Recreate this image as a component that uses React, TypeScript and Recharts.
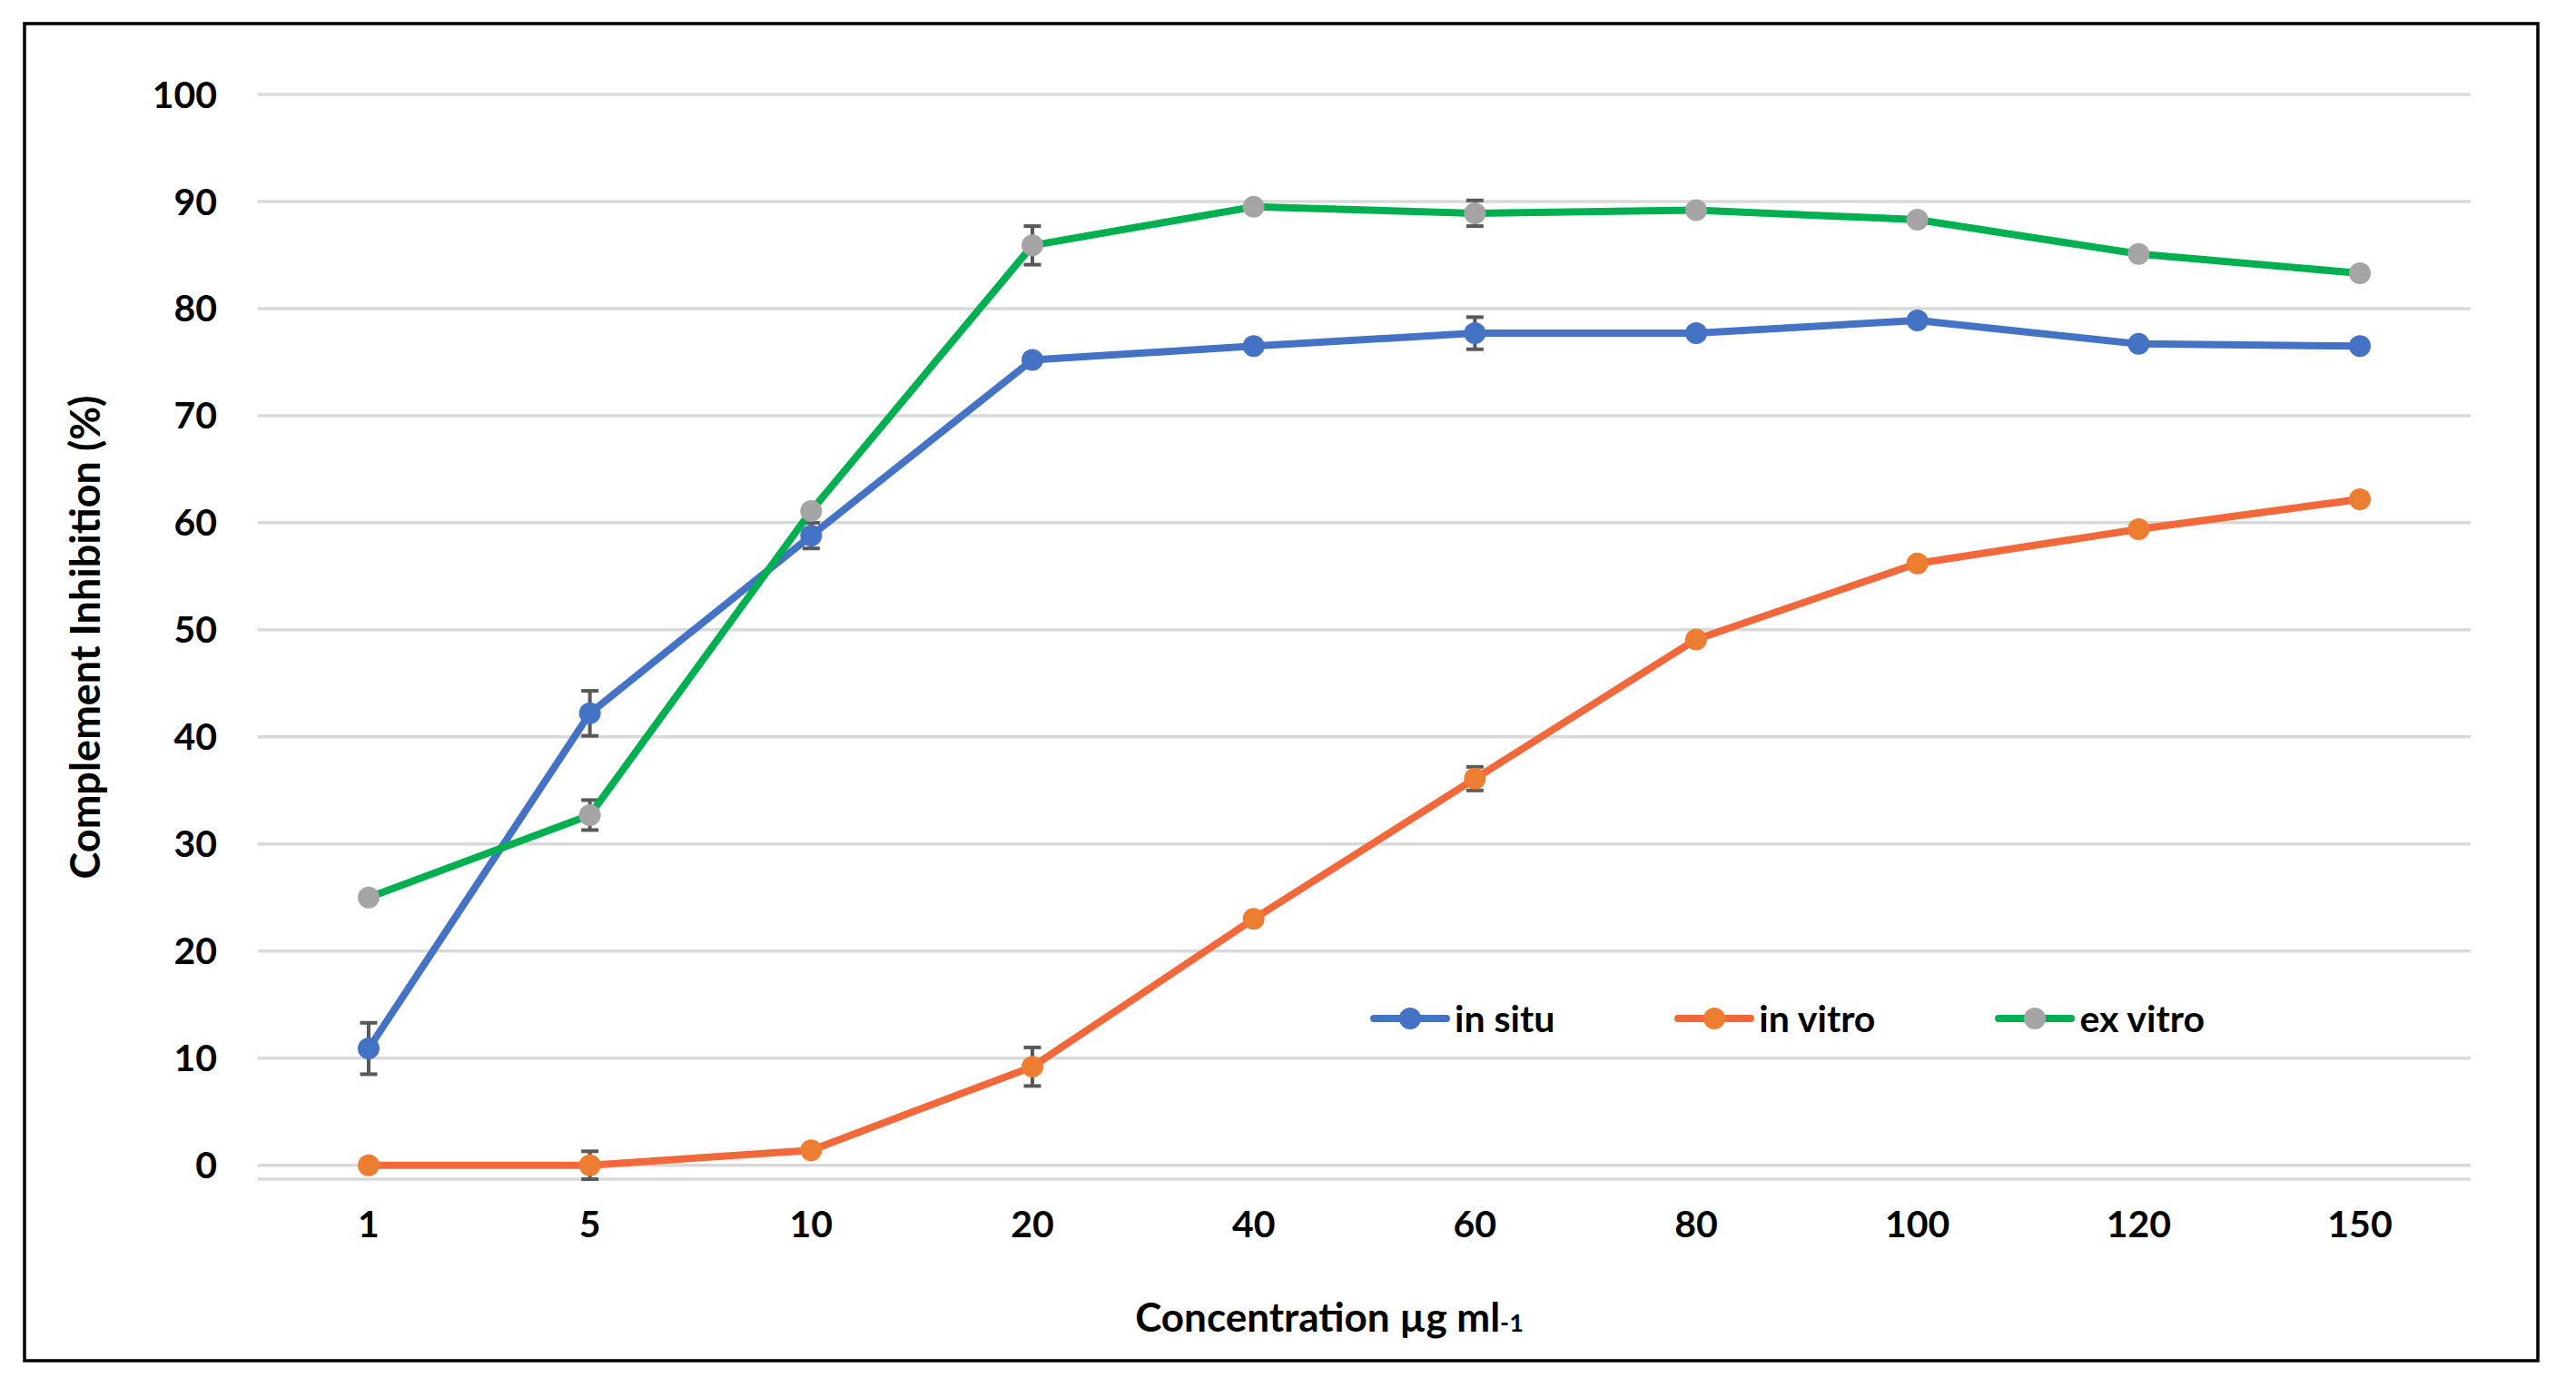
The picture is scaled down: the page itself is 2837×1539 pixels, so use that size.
import React from "react";
import { CartesianGrid, ErrorBar, Legend, Line, LineChart, XAxis, YAxis } from "recharts";

const concentrations = ["1", "5", "10", "20", "40", "60", "80", "100", "120", "150"];
const inSitu = [10.9, 42.2, 58.8, 75.2, 76.5, 77.7, 77.7, 78.9, 76.7, 76.5];
const inSituErr = [2.4, 2.1, 1.2, 0, 0, 1.5, 0, 0, 0, 0];
const inVitro = [0, 0, 1.4, 9.2, 23.0, 36.1, 49.1, 56.2, 59.4, 62.2];
const inVitroErr = [0, 1.3, 0, 1.8, 0, 1.1, 0, 0, 0, 0];
const exVitro = [25.0, 32.7, 61.1, 85.9, 89.5, 88.9, 89.2, 88.3, 85.1, 83.3];
const exVitroErr = [0, 1.4, 0, 1.8, 0, 1.2, 0, 0, 0, 0];
const yTicks = [0, 10, 20, 30, 40, 50, 60, 70, 80, 90, 100];

const series = [
  { key: "inSitu", name: "in situ", line: "#4472c4", dot: "#4472c4" },
  { key: "inVitro", name: "in vitro", line: "#f2683a", dot: "#ed7d31" },
  { key: "exVitro", name: "ex vitro", line: "#00b050", dot: "#a5a5a5" },
];

const data = concentrations.map((c, i) => ({
  conc: c,
  inSitu: inSitu[i],
  inSituErr: inSituErr[i],
  inVitro: inVitro[i],
  inVitroErr: inVitroErr[i],
  exVitro: exVitro[i],
  exVitroErr: exVitroErr[i],
}));

const FONT = "Lato, 'Open Sans', sans-serif";
const W = 2837;
const H = 1539;

function LegendContent() {
  return (
    <div style={{ display: "flex", alignItems: "center", gap: 132, fontFamily: FONT, fontWeight: 700, fontSize: 41 }}>
      {series.map((s) => (
        <div key={s.key} style={{ display: "flex", alignItems: "center" }}>
          <svg width={88} height={30} style={{ display: "block" }}>
            <line x1={4} y1={15} x2={84} y2={15} stroke={s.line} strokeWidth={8} strokeLinecap="round" />
            <circle cx={44} cy={15} r={12} fill={s.dot} />
          </svg>
          <span style={{ marginLeft: 5, color: "#000", lineHeight: "60px" }}>{s.name}</span>
        </div>
      ))}
    </div>
  );
}

export default function App() {
  return (
    <div style={{ position: "absolute", left: 0, top: 0, width: W, height: H, background: "#fff" }}>
      <LineChart
        width={W}
        height={H}
        data={data}
        margin={{ top: 104, right: 116, bottom: 160, left: 164 }}
      >
        <CartesianGrid vertical={false} stroke="#d9d9d9" strokeWidth={3.5} />
        <XAxis
          dataKey="conc"
          height={80}
          padding={{ left: 122, right: 122 }}
          axisLine={false}
          tickLine={false}
          tickSize={0}
          tickMargin={35}
          interval={0}
          tick={{ fill: "#000", fontSize: 41, fontWeight: 700, fontFamily: FONT }}
        />
        <YAxis
          width={120}
          domain={[0, 100]}
          ticks={yTicks}
          axisLine={false}
          tickLine={false}
          tickSize={0}
          tickMargin={45}
          tick={{ fill: "#000", fontSize: 41, fontWeight: 700, fontFamily: FONT }}
        />
        <Legend
          layout="horizontal"
          verticalAlign="middle"
          align="center"
          content={<LegendContent />}
          wrapperStyle={{ left: 1509, top: 1092, width: 1100, height: 60 }}
        />
        {series.map((s) => (
          <Line
            key={s.key}
            type="linear"
            dataKey={s.key}
            name={s.name}
            stroke={s.line}
            strokeWidth={8}
            strokeLinejoin="round"
            dot={{ r: 12, fill: s.dot, stroke: "none", strokeWidth: 0 }}
            activeDot={false}
            isAnimationActive={false}
          >
            <ErrorBar dataKey={`${s.key}Err`} width={9.5} strokeWidth={4} stroke="#595959" direction="y" />
          </Line>
        ))}
      </LineChart>
      <svg
        width={W}
        height={H}
        style={{ position: "absolute", left: 0, top: 0, pointerEvents: "none" }}
      >
        <rect x={27} y={26} width={2768} height={1473} fill="none" stroke="#000" strokeWidth={3.5} />
        <text
          x={110}
          y={702}
          transform="rotate(-90 110 702)"
          textAnchor="middle"
          fontFamily={FONT}
          fontWeight={700}
          fontSize={45}
          fill="#000"
        >
          Complement Inhibition (%)
        </text>
        <text x={1464} y={1467} textAnchor="middle" fontFamily={FONT} fontWeight={700} fontSize={44} fill="#000">
          Concentration µg ml<tspan fontSize={27}>-1</tspan>
        </text>
      </svg>
    </div>
  );
}
